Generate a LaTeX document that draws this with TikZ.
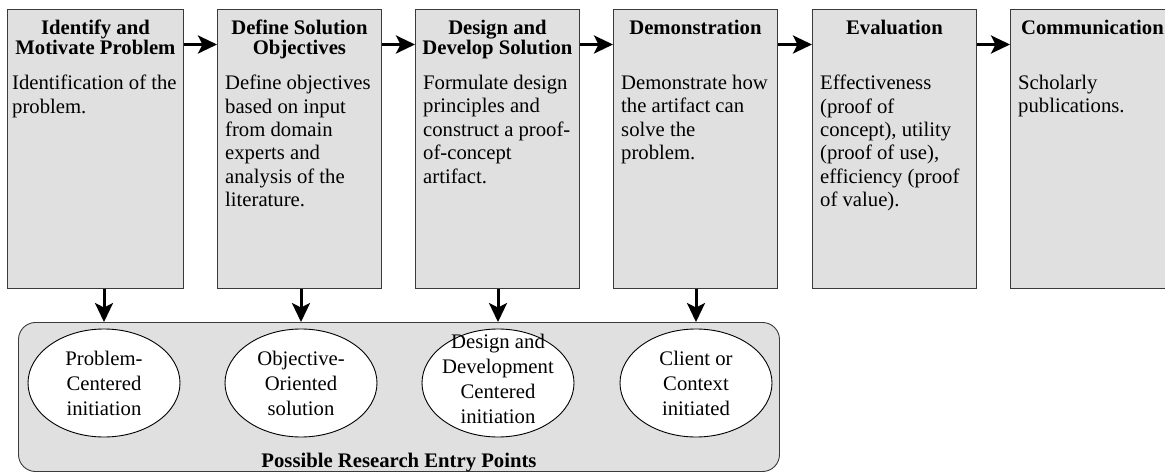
\documentclass[tikz,border=0pt]{standalone}
\usepackage{fontspec}
\setmainfont{Liberation Serif}
\usetikzlibrary{arrows.meta,shapes.geometric}

\definecolor{panelgray}{HTML}{E0E0E0}
\definecolor{edgegray}{HTML}{3A3A3A}

\begin{document}
\begin{tikzpicture}[
        x=1pt, y=-1pt,
        stage/.style={rectangle, draw=edgegray, fill=panelgray, line width=0.9pt, anchor=north west, minimum width=164pt, minimum height=279pt, inner sep=0pt},
        heading/.style={anchor=north, inner sep=0pt, align=center, font=\fontsize{20.7}{19.5}\selectfont\bfseries},
        body/.style={anchor=north west, inner sep=0pt, align=left, font=\fontsize{20.7}{23.4}\selectfont},
        pool/.style={rectangle, rounded corners=17pt, draw=edgegray, fill=panelgray, line width=0.9pt, minimum width=761pt, minimum height=149pt, inner sep=0pt},
        entry/.style={ellipse, draw, fill=white, line width=0.9pt, minimum width=152pt, minimum height=108pt, inner sep=0pt},
        entrytext/.style={inner sep=0pt, align=center, font=\fontsize{20.7}{25}\selectfont},
        flow/.style={-{Stealth[length=19pt, width=18pt, inset=4.5pt]}, line width=3pt}
      ]
      \useasboundingbox (0,0) rectangle (1165,473);

      \node[stage, minimum width=176pt] (s1) at (7,9) {};
      \node[stage] (s2) at (217,9) {};
      \node[stage] (s3) at (415,9) {};
      \node[stage] (s4) at (613,9) {};
      \node[stage] (s5) at (812,9) {};
      \node[stage] (s6) at (1010,9) {};

      \node[heading] (h1) at ([yshift=-11pt]s1.north) {Identify and\\Motivate Problem};
      \node[heading] (h2) at ([yshift=-11pt]s2.north) {Define Solution\\Objectives};
      \node[heading] (h3) at ([yshift=-11pt]s3.north) {Design and\\Develop Solution};
      \node[heading] (h4) at ([yshift=-11pt]s4.north) {Demonstration};
      \node[heading] (h5) at ([yshift=-11pt]s5.north) {Evaluation};
      \node[heading] (h6) at ([yshift=-11pt]s6.north) {Communication};

      \node[body] (b1) at ([xshift=5pt, yshift=-66pt]s1.north west) {Identification of the\\problem.};
      \node[body] (b2) at ([xshift=8pt, yshift=-66pt]s2.north west) {Define objectives\\based on input\\from domain\\experts and\\analysis of the\\literature.};
      \node[body] (b3) at ([xshift=8pt, yshift=-66pt]s3.north west) {Formulate design\\principles and\\construct a proof-\\of-concept\\artifact.};
      \node[body] (b4) at ([xshift=8pt, yshift=-66pt]s4.north west) {Demonstrate how\\the artifact can\\solve the\\problem.};
      \node[body] (b5) at ([xshift=8pt, yshift=-66pt]s5.north west) {Effectiveness\\(proof of\\concept), utility\\(proof of use),\\efficiency (proof\\of value).};
      \node[body] (b6) at ([xshift=8pt, yshift=-66pt]s6.north west) {Scholarly\\publications.};

      \draw[flow] ([yshift=-35.5pt]s1.north east) -- ([yshift=-35.5pt]s2.north west);
      \draw[flow] ([yshift=-35.5pt]s2.north east) -- ([yshift=-35.5pt]s3.north west);
      \draw[flow] ([yshift=-35.5pt]s3.north east) -- ([yshift=-35.5pt]s4.north west);
      \draw[flow] ([yshift=-35.5pt]s4.north east) -- ([yshift=-35.5pt]s5.north west);
      \draw[flow] ([yshift=-35.5pt]s5.north east) -- ([yshift=-35.5pt]s6.north west);

      \node[pool] (entries) at (399,397) {};
      \node[anchor=base, inner sep=0pt, font=\fontsize{20.7}{25}\selectfont\bfseries] (caption) at ([yshift=4pt]entries.south) {Possible Research Entry Points};

      \node[entry] (e1) at (104,383) {};
      \node[entry] (e2) at (301,383) {};
      \node[entry] (e3) at (498,383) {};
      \node[entry] (e4) at (696,383) {};

      \node[entrytext] (t1) at (e1) {Problem-\\Centered\\initiation};
      \node[entrytext] (t2) at (e2) {Objective-\\Oriented\\solution};
      \node[entrytext] (t3) at ([yshift=4pt]e3.center) {Design and\\Development\\Centered\\initiation};
      \node[entrytext] (t4) at (e4) {Client or\\Context\\initiated};

      \draw[flow] (s1.south -| e1) -- (e1 |- entries.north);
      \draw[flow] (s2.south -| e2) -- (e2 |- entries.north);
      \draw[flow] (s3.south -| e3) -- (e3 |- entries.north);
      \draw[flow] (s4.south -| e4) -- (e4 |- entries.north);
    \end{tikzpicture}
\end{document}
